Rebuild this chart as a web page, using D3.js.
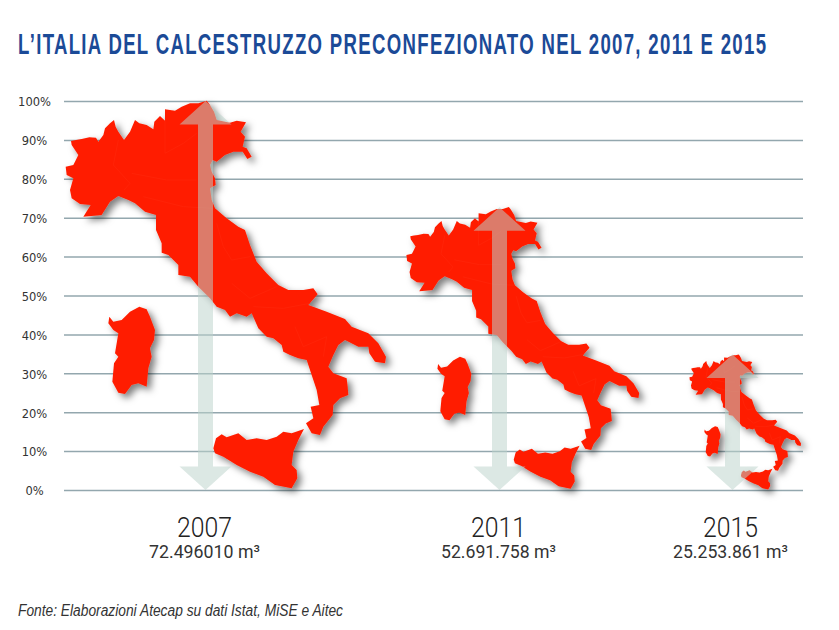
<!DOCTYPE html>
<html>
<head>
<meta charset="utf-8">
<script src="https://cdn.jsdelivr.net/npm/d3@7"></script>
<style>
body { margin: 0; background: #fff; }
svg { display: block; }
</style>
</head>
<body>
<svg id="chart" width="839" height="630"></svg>
<script>
// italia del calcestruzzo: map of italy scaled by volume of each year
const years = ["2007", "2011", "2015"];
const volumes = [72496010, 52691758, 25253861];
const volumeLabels = ["72.496010 m³", "52.691.758 m³", "25.253.861 m³"];
const percentTicks = [0, 10, 20, 30, 40, 50, 60, 70, 80, 90, 100];

// outlines, in trace units (x 0-1050, y 33 top - 1200 bottom)
const mainland = [[63,153],[78,150],[95,147],[118,142],[138,143],[145,155],[160,135],[165,115],[180,100],[192,90],[197,110],[205,125],[222,150],[240,125],[255,90],[268,100],[290,105],[310,118],[313,95],[330,78],[345,92],[345,58],[375,62],[395,50],[420,40],[445,40],[470,32],[478,42],[492,65],[500,90],[540,98],[560,92],[588,97],[572,125],[585,140],[578,170],[590,175],[605,200],[592,207],[578,185],[550,185],[525,195],[500,215],[488,210],[480,225],[485,245],[495,265],[497,285],[480,295],[485,330],[495,355],[530,385],[565,410],[585,420],[600,465],[620,515],[650,550],[685,585],[715,600],[760,600],[790,595],[803,613],[775,645],[830,665],[885,687],[905,710],[955,730],[985,760],[1008,800],[1005,820],[975,815],[958,790],[955,770],[925,770],[885,750],[865,765],[850,795],[835,830],[850,850],[890,865],[893,890],[895,915],[870,925],[850,945],[848,975],[820,1010],[810,1035],[785,1030],[768,1000],[790,985],[782,950],[808,945],[800,900],[790,870],[770,810],[745,805],[720,795],[700,785],[695,765],[670,745],[650,740],[625,715],[605,670],[590,680],[560,670],[540,680],[525,660],[500,650],[480,625],[445,590],[420,560],[385,555],[385,525],[355,495],[335,488],[335,460],[318,420],[318,375],[285,365],[255,340],[235,330],[205,318],[180,335],[155,375],[125,378],[100,380],[122,345],[90,342],[65,325],[60,300],[70,265],[50,255],[47,230],[70,225],[85,195],[65,165]];
const sardinia = [[178,680],[190,695],[215,690],[240,665],[268,650],[290,658],[300,680],[315,720],[312,750],[300,775],[305,800],[295,835],[290,890],[265,880],[245,885],[225,912],[205,908],[187,875],[192,820],[205,800],[195,790],[205,730],[190,720],[175,700]];
const sicily = [[490,1075],[498,1045],[515,1033],[530,1042],[565,1030],[590,1050],[620,1045],[650,1050],[680,1040],[700,1025],[725,1030],[762,1017],[745,1050],[730,1085],[725,1125],[740,1140],[742,1165],[725,1195],[675,1185],[640,1160],[600,1145],[560,1125],[520,1100],[495,1090]];
const regionLines = [
    [[205,150],[190,225],[240,280],[222,300]],
    [[245,250],[350,270],[440,270]],
    [[345,90],[345,190],[400,160],[440,130]],
    [[280,320],[400,350],[490,355]],
    [[500,400],[520,470],[545,510],[600,500]],
    [[545,580],[600,625],[680,590]],
    [[610,650],[700,655],[780,640]],
    [[735,710],[760,770],[830,740],[820,800]]
];

const svg = d3.select("#chart");
const y = d3.scaleLinear([0, 100], [490, 101]);
const mapLeft = d3.scaleOrdinal(years, [50, 395, 684]);
const arrowX = d3.scaleOrdinal(years, [205.5, 499.5, 732.5]);
const labelX = d3.scaleOrdinal(years, [204.5, 498.5, 730.5]);
const maxVolume = d3.max(volumes);

// shadow under the maps
const shadow = svg.append("defs").append("filter")
    .attr("id", "shadow")
    .attr("x", "-10%").attr("y", "-10%")
    .attr("width", "125%").attr("height", "125%");
shadow.append("feDropShadow")
    .attr("dx", 4).attr("dy", 4).attr("stdDeviation", 3.5)
    .attr("flood-color", "#000").attr("flood-opacity", 0.5);

// title: no condensed font here so squeeze it sideways and open up the spacing
const titleScale = 0.62;
const title = svg.append("text")
    .attr("transform", "translate(18,54) scale(" + titleScale + ",1)")
    .attr("font-family", "'Liberation Sans'")
    .attr("font-weight", "bold")
    .attr("font-size", 30)
    .attr("fill", "#1b4a97")
    .text("L’ITALIA DEL CALCESTRUZZO PRECONFEZIONATO NEL 2007, 2011 E 2015");
const titleNatural = title.node().getComputedTextLength();
title.attr("letter-spacing", (748 / titleScale - titleNatural) / (title.text().length - 1));

// axis and grid
const axis = svg.append("g")
    .attr("transform", "translate(64,0)")
    .call(d3.axisLeft(y).tickValues(percentTicks).tickFormat(d => d + "%").tickSize(-739).tickPadding(0));
axis.select(".domain").remove();
axis.selectAll("line").attr("stroke", "#93a7ae").attr("stroke-width", 1.5);
axis.selectAll("text")
    .attr("x", -29.5)
    .attr("dy", "0.42em")
    .attr("text-anchor", "middle")
    .attr("font-family", "'DejaVu Sans'")
    .attr("font-size", 11.5)
    .attr("fill", "#333");

// maps
years.forEach(function (year, i) {
    let pct = volumes[i] / maxVolume * 100;
    let k = pct / 100;
    let mx = d3.scaleLinear([0, 1050], [mapLeft(year), mapLeft(year) + 350 * k]);
    let my = d3.scaleLinear([33, 1200], [y(pct), y(0)]);
    let line = d3.line().x(d => mx(d[0])).y(d => my(d[1]));

    let g = svg.append("g");
    let shapes = g.append("g").attr("filter", "url(#shadow)");
    shapes.selectAll("path")
        .data([mainland, sardinia, sicily])
        .join("path")
        .attr("d", d => line(d) + "Z")
        .attr("fill", "#ff1e00");
    g.selectAll(".region")
        .data(regionLines)
        .join("path")
        .attr("class", "region")
        .attr("d", line)
        .attr("fill", "none")
        .attr("stroke", "#ff2a0e")
        .attr("stroke-width", 0.5);
});

// arrows go on top of the maps
years.forEach(function (year, i) {
    let pct = volumes[i] / maxVolume * 100;
    let cx = arrowX(year);
    let top = y(pct);
    let bottom = y(0);
    let shaft = 7.5;
    let head = 26;
    let headH = 23.5;
    let pts = [
        [cx, top], [cx + head, top + headH], [cx + shaft, top + headH],
        [cx + shaft, bottom - headH], [cx + head, bottom - headH], [cx, bottom],
        [cx - head, bottom - headH], [cx - shaft, bottom - headH],
        [cx - shaft, top + headH], [cx - head, top + headH]
    ];
    svg.append("path")
        .attr("d", d3.line()(pts) + "Z")
        .attr("fill", "#bbd3cb")
        .attr("fill-opacity", 0.52);
});

// year and volume labels
svg.selectAll(".year")
    .data(years)
    .join("text")
    .attr("class", "year")
    .attr("x", d => labelX(d))
    .attr("y", 537)
    .attr("text-anchor", "middle")
    .attr("textLength", 55)
    .attr("lengthAdjust", "spacingAndGlyphs")
    .attr("font-family", "Roboto")
    .attr("font-weight", 300)
    .attr("font-size", 27)
    .attr("fill", "#222")
    .text(d => d);
svg.selectAll(".volume")
    .data(volumeLabels)
    .join("text")
    .attr("class", "volume")
    .attr("x", (d, i) => labelX(years[i]))
    .attr("y", 558)
    .attr("text-anchor", "middle")
    .attr("textLength", (d, i) => i == 0 ? 111 : 115)
    .attr("lengthAdjust", "spacingAndGlyphs")
    .attr("font-family", "Roboto")
    .attr("font-weight", 400)
    .attr("font-size", 18)
    .attr("fill", "#333")
    .text(d => d);

// source
svg.append("text")
    .attr("x", 18).attr("y", 616)
    .attr("textLength", 325)
    .attr("lengthAdjust", "spacingAndGlyphs")
    .attr("font-family", "'Liberation Sans'")
    .attr("font-style", "italic")
    .attr("font-size", 16)
    .attr("fill", "#333")
    .text("Fonte: Elaborazioni Atecap su dati Istat, MiSE e Aitec");
</script>
</body>
</html>
